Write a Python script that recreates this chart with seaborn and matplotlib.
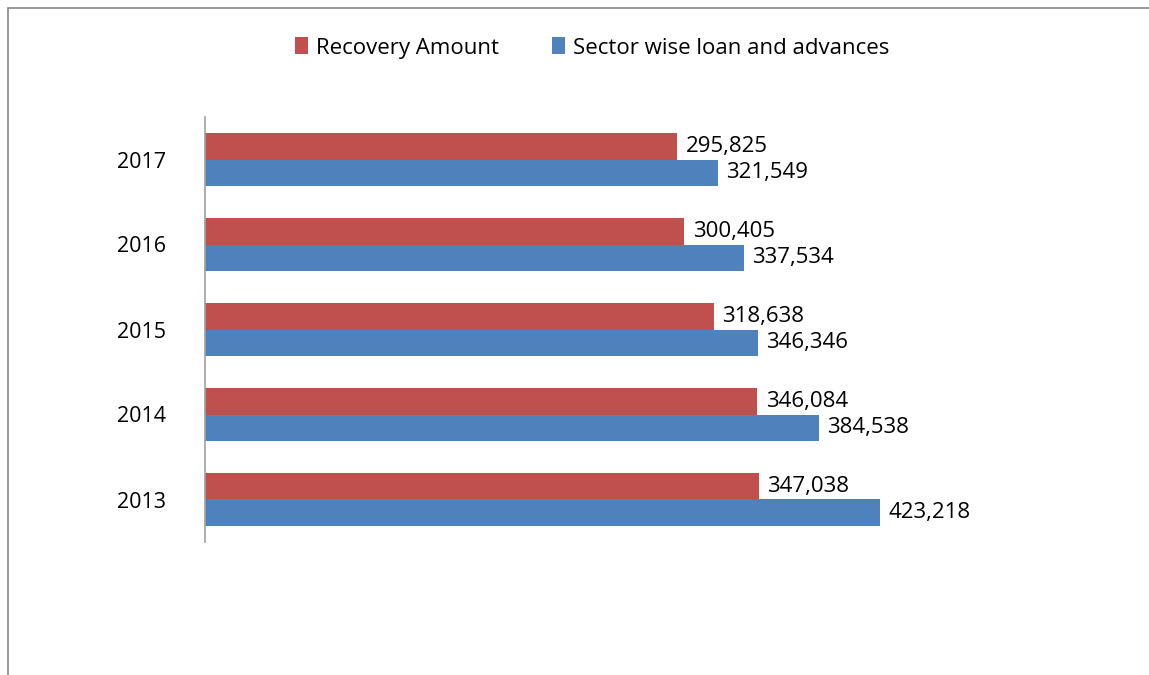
import matplotlib
matplotlib.use("Agg")
import matplotlib.pyplot as plt
from matplotlib.lines import Line2D
from matplotlib.patches import Patch
import seaborn as sns
import pandas as pd

years = ["2017", "2016", "2015", "2014", "2013"]
recovery = [295825, 300405, 318638, 346084, 347038]
loans = [321549, 337534, 346346, 384538, 423218]
series = ["Recovery Amount", "Sector wise loan and advances"]
colors = ["#C0504D", "#4F81BD"]

df = pd.DataFrame({
    "Year": years * 2,
    "Value": recovery + loans,
    "Series": [series[0]] * len(years) + [series[1]] * len(years),
})

sns.set_theme(style="white")
plt.rcParams["font.family"] = ["Open Sans", "DejaVu Sans"]

fig = plt.figure(figsize=(11.49, 6.75), dpi=100)
ax = fig.add_axes([205 / 1149, 1 - 542 / 675, (1003 - 205) / 1149, (542 - 117) / 675])

sns.barplot(data=df, y="Year", x="Value", hue="Series", order=years,
            hue_order=series, palette=colors, orient="h", width=0.63,
            saturation=1, edgecolor="none", ax=ax, legend=False)

ax.set_xlim(0, 500000)
ax.set_xlabel("")
ax.set_ylabel("")
ax.set_xticks([])
ax.tick_params(axis="y", labelsize=15.5, length=0, pad=28, colors="black")
for s in ["top", "right", "bottom"]:
    ax.spines[s].set_visible(False)
ax.spines["left"].set_color("#A0A0A0")
ax.spines["left"].set_linewidth(1.2)

for cont in ax.containers:
    ax.bar_label(cont, labels=[f"{v:,.0f}" for v in cont.datavalues],
                 padding=6, fontsize=16, color="black")

handles = [Patch(facecolor=c, edgecolor="none") for c in colors]
fig.legend(handles, series, loc="center", bbox_to_anchor=(592 / 1149, 1 - 48 / 675),
           ncol=2, frameon=False, fontsize=16, handlelength=0.6, handleheight=0.8,
           handletextpad=0.35, columnspacing=2.4, labelcolor="black")

# outer chart border (top and left visible)
fig.add_artist(Line2D([8 / 1149, 8 / 1149], [0, 1 - 8 / 675], color="#888888", lw=1.2))
fig.add_artist(Line2D([8 / 1149, 1], [1 - 8 / 675, 1 - 8 / 675], color="#888888", lw=1.2))

fig.savefig("out.png", dpi=100, facecolor="white")
